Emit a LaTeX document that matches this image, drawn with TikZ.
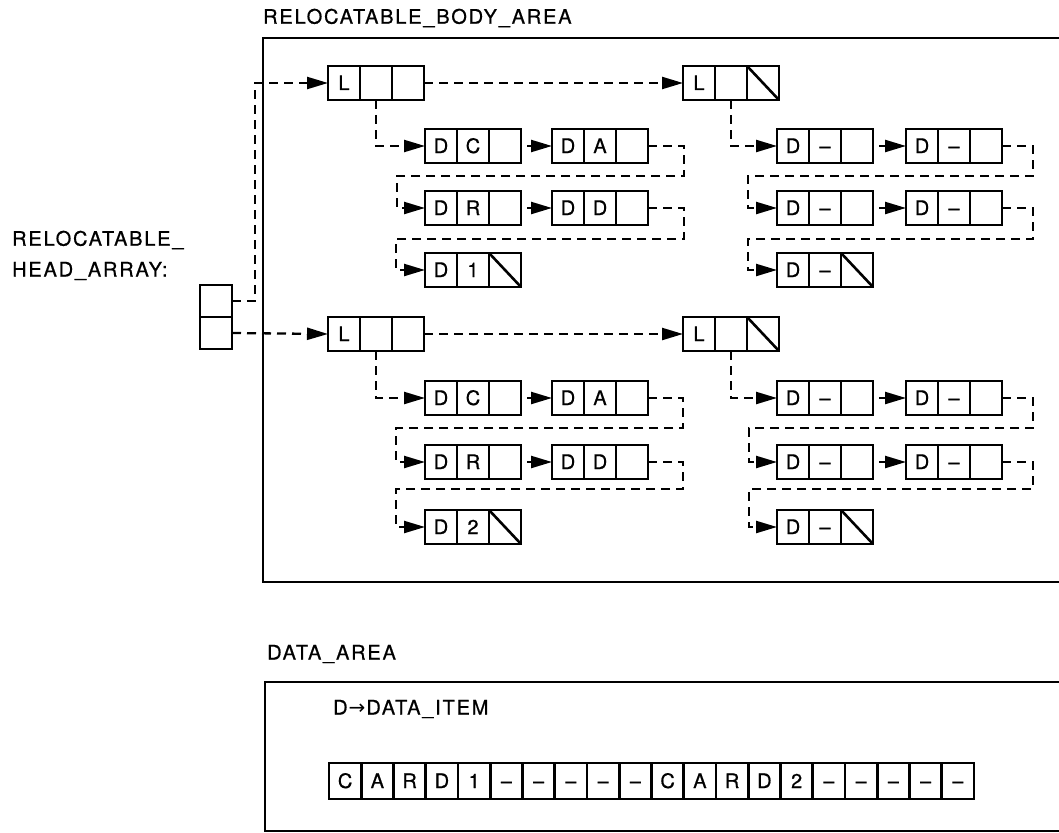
\documentclass[tikz,border=0pt]{standalone}
\usepackage{fontspec}
\setmainfont{TeX Gyre Heros}[FakeBold=0.7]
\newfontfamily\lbfont{TeX Gyre Heros}[LetterSpace=9,FakeBold=0.7]
\newfontfamily\arrowfont{DejaVu Sans}
\usetikzlibrary{arrows.meta}
\tikzset{
  cell/.style={draw, line width=2.6pt, minimum width=32pt, minimum height=34pt,
    inner sep=0pt, outer sep=0pt, anchor=west, text height=14pt, text depth=0pt,
    font=\fontsize{20}{20}\selectfont},
  hcell/.style={draw, line width=2.6pt, minimum width=32pt, minimum height=32pt,
    inner sep=0pt, outer sep=0pt},
  dcell/.style={draw, line width=2.6pt, minimum width=32.25pt, minimum height=36pt,
    inner sep=0pt, outer sep=0pt, anchor=west, text height=14pt, text depth=0pt,
    font=\fontsize{20}{20}\selectfont},
  link/.style={line width=2.3pt, dash pattern=on 9pt off 6pt,
    -{Triangle[length=21pt,width=12pt]}},
  frame/.style={line width=2pt},
  lbl/.style={anchor=west, inner sep=0pt, font=\lbfont\fontsize{20}{20}\selectfont},
}
\newcommand\rec[5]{%
  \node[cell] (#1-a) at (#2,#3) {#4};
  \node[cell] (#1-b) at (#1-a.east) {#5};
  \node[cell] (#1-c) at (#1-b.east) {};}
\newcommand\diagcell[1]{\draw[line width=2.6pt] (#1-c.north west) -- (#1-c.south east);}
\begin{document}
\begin{tikzpicture}[x=1pt,y=-1pt]
\useasboundingbox (0,0) rectangle (1059,832);
% frames
\draw[frame] (1059,38) -- (263,38) -- (263,582) -- (1059,582);
\draw[frame] (1059,682) -- (265,682) -- (265,831) -- (1059,831);
% labels
\node[lbl] (tbody) at (263,18) {RELOCATABLE\_BODY\_AREA};
\node[lbl] (thead1) at (12,240) {RELOCATABLE\_};
\node[lbl] (thead2) at (12,271) {HEAD\_ARRAY:};
\node[lbl] (tdata) at (267,654) {DATA\_AREA};
\node[lbl] (titem) at (333,709) {D\kern1pt{\arrowfont\fontsize{20}{20}\selectfont →}\kern1pt DATA\_ITEM};
% head array
\node[hcell] (h1) at (216,301) {};
\node[hcell] (h2) at (216,333) {};
% upper group
\rec{LA}{328}{83}{L}{}
\rec{LB}{683}{83}{L}{}\diagcell{LB}
\rec{DC1}{425}{146}{D}{C}
\rec{DA1}{552}{146}{D}{A}
\rec{DR1}{425}{208}{D}{R}
\rec{DD1}{552}{208}{D}{D}
\rec{DN1}{425}{270}{D}{1}\diagcell{DN1}
\rec{RA1}{777}{146}{D}{–}
\rec{RB1}{906}{146}{D}{–}
\rec{RC1}{777}{208}{D}{–}
\rec{RD1}{906}{208}{D}{–}
\rec{RE1}{777}{270}{D}{–}\diagcell{RE1}
% lower group
\rec{LC}{328}{334}{L}{}
\rec{LD}{683}{334}{L}{}\diagcell{LD}
\rec{DC2}{425}{398}{D}{C}
\rec{DA2}{552}{398}{D}{A}
\rec{DR2}{425}{462}{D}{R}
\rec{DD2}{552}{462}{D}{D}
\rec{DN2}{425}{527}{D}{2}\diagcell{DN2}
\rec{RA2}{777}{398}{D}{–}
\rec{RB2}{906}{398}{D}{–}
\rec{RC2}{777}{462}{D}{–}
\rec{RD2}{906}{462}{D}{–}
\rec{RE2}{777}{527}{D}{–}\diagcell{RE2}
% data row
\foreach \t [count=\i] in {C,A,R,D,1,–,–,–,–,–,C,A,R,D,2,–,–,–,–,–}
  \node[dcell] (d\i) at ({329+32.25*(\i-1)},781) {\t};
% connectors upper
\draw[link] (h1.east) -| (255,83) -- (LA-a.west);
\draw[link] (LA-c.east) -- (LB-a.west);
\draw[link] (LA-b.south) |- (DC1-a.west);
\draw[link, shorten <=6pt] (DC1-c.east) -- (DA1-a.west);
\draw[link] (DA1-c.east) -| (684,176) -- (397,176) |- (DR1-a.west);
\draw[link, shorten <=6pt] (DR1-c.east) -- (DD1-a.west);
\draw[link] (DD1-c.east) -| (684,239) -- (396,239) |- (DN1-a.west);
\draw[link] (LB-b.south) |- (RA1-a.west);
\draw[link, shorten <=6pt] (RA1-c.east) -- (RB1-a.west);
\draw[link] (RB1-c.east) -| (1033,176) -- (748,176) |- (RC1-a.west);
\draw[link, shorten <=6pt] (RC1-c.east) -- (RD1-a.west);
\draw[link] (RD1-c.east) -| (1033,239) -- (748,239) |- (RE1-a.west);
% connectors lower
\draw[link] (h2.east) -- (LC-a.west);
\draw[link] (LC-c.east) -- (LD-a.west);
\draw[link] (LC-b.south) |- (DC2-a.west);
\draw[link, shorten <=6pt] (DC2-c.east) -- (DA2-a.west);
\draw[link] (DA2-c.east) -| (683,428) -- (396,428) |- (DR2-a.west);
\draw[link, shorten <=6pt] (DR2-c.east) -- (DD2-a.west);
\draw[link] (DD2-c.east) -| (683,489) -- (396,489) |- (DN2-a.west);
\draw[link] (LD-b.south) |- (RA2-a.west);
\draw[link, shorten <=6pt] (RA2-c.east) -- (RB2-a.west);
\draw[link] (RB2-c.east) -| (1033,428) -- (749,428) |- (RC2-a.west);
\draw[link, shorten <=6pt] (RC2-c.east) -- (RD2-a.west);
\draw[link] (RD2-c.east) -| (1033,489) -- (749,489) |- (RE2-a.west);
\end{tikzpicture}
\end{document}
